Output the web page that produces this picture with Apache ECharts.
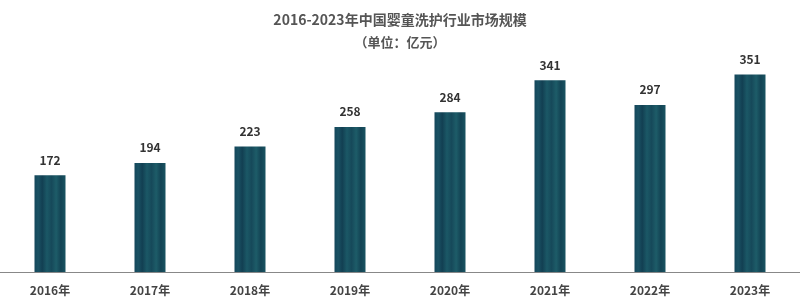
<!DOCTYPE html>
<html>
<head>
<meta charset="utf-8">
<script src="https://cdn.jsdelivr.net/npm/echarts@6/dist/echarts.min.js"></script>
<style>html,body{margin:0;padding:0;background:#fff}#c{width:800px;height:301px}</style>
</head>
<body>
<div id="c"></div>
<script>
var categories = ['2016年','2017年','2018年','2019年','2020年','2021年','2022年','2023年'];
var values = [172,194,223,258,284,341,297,351];
var titleText = '2016-2023年中国婴童洗护行业市场规模';
var subtitleText = '（单位：亿元）';

var chart = echarts.init(document.getElementById('c'));
var barFill = new echarts.graphic.LinearGradient(0,0,1,0,[
  {offset:0,color:'#14465a'},
  {offset:0.12,color:'#1a5264'},
  {offset:0.25,color:'#123f52'},
  {offset:0.4,color:'#1b5866'},
  {offset:0.55,color:'#16495a'},
  {offset:0.7,color:'#1d5c68'},
  {offset:0.85,color:'#134354'},
  {offset:1,color:'#1a5462'}
]);
chart.setOption({
  animation:false,
  title:{
    text:titleText,
    subtext:subtitleText,
    left:'center',
    top:8,
    itemGap:9,
    textStyle:{fontFamily:'Noto Sans CJK SC',fontSize:14,fontWeight:'bold',color:'#555'},
    subtextStyle:{fontFamily:'Noto Sans CJK SC',fontSize:13,fontWeight:'bold',color:'#555'}
  },
  grid:{left:0,right:0,top:47,bottom:29},
  xAxis:{
    type:'category',
    data:categories,
    axisLine:{lineStyle:{color:'#888',width:1}},
    axisTick:{show:false},
    axisLabel:{fontFamily:'Noto Sans CJK SC',fontSize:12,fontWeight:'bold',color:'#444',margin:12}
  },
  yAxis:{type:'value',min:0,max:400,show:false,splitLine:{show:false}},
  series:[{
    type:'bar',
    data:values,
    barWidth:31,
    itemStyle:{color:barFill},
    label:{show:true,position:'top',distance:9,fontFamily:'Noto Sans CJK SC',fontSize:12,fontWeight:'bold',color:'#333'}
  }]
});
</script>
</body>
</html>
